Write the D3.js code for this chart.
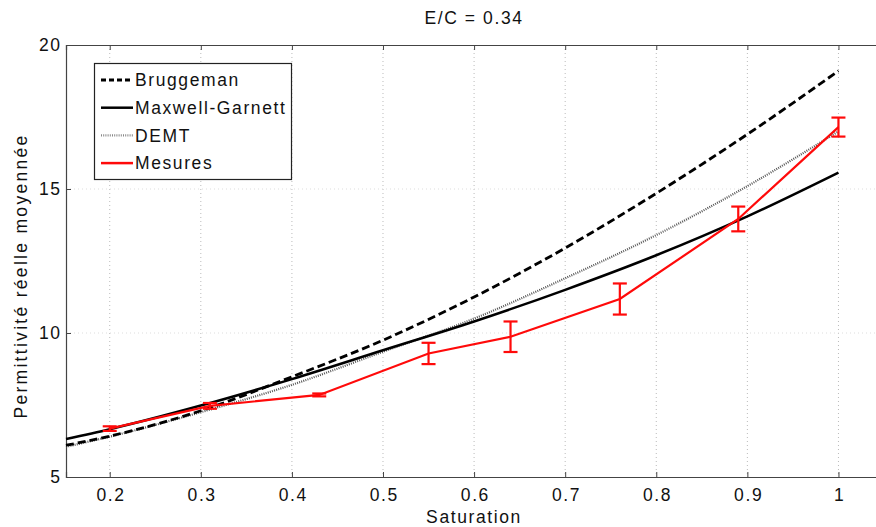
<!DOCTYPE html>
<html><head><meta charset="utf-8">
<script src="https://cdn.jsdelivr.net/npm/d3@7"></script>
<style>body{margin:0;background:#fff}svg{display:block;font-family:"Liberation Sans",Arial,sans-serif}</style>
</head><body><svg id="c" width="876" height="527"></svg>
<script>
const xs = [0.152, 0.2, 0.3, 0.4, 0.5, 0.6, 0.7, 0.8, 0.9, 1.0];
const bruggeman = [6.1, 6.42, 7.3, 8.48, 9.75, 11.25, 12.95, 14.85, 16.9, 19.1];
const maxwellGarnett = [6.32, 6.66, 7.48, 8.4, 9.4, 10.4, 11.5, 12.7, 14.05, 15.57];
const demt = [6.05, 6.4, 7.25, 8.2, 9.35, 10.5, 11.9, 13.4, 15.1, 17.0];
const mesX = [0.2, 0.31, 0.43, 0.55, 0.64, 0.76, 0.89, 1.0];
const mesY = [6.68, 7.47, 7.85, 9.29, 9.87, 11.18, 13.96, 17.15];
const mesErr = [0.08, 0.1, 0.05, 0.37, 0.53, 0.54, 0.43, 0.33];
const xTicks = [0.2, 0.3, 0.4, 0.5, 0.6, 0.7, 0.8, 0.9, 1];
const yTicks = [5, 10, 15, 20];
const legendLabels = ["Bruggeman", "Maxwell-Garnett", "DEMT", "Mesures"];

const FS = 17.5, LS = 1.6;
const svg = d3.select("#c");
const L = 66, R = 884, T = 45, B = 477;
const x = d3.scaleLinear().domain([0.152, 1.05]).range([L, R]);
const y = d3.scaleLinear().domain([5, 20]).range([B, T]);

// grid
const g = svg.append("g");
g.selectAll(".gx").data(xTicks).join("line")
  .attr("x1", d => x(d)).attr("x2", d => x(d)).attr("y1", T).attr("y2", B)
  .attr("stroke", "#bbb").attr("stroke-width", 1).attr("stroke-dasharray", "1,3");
g.selectAll(".gy").data(yTicks.slice(1, 3)).join("line")
  .attr("x1", L).attr("x2", R).attr("y1", d => y(d)).attr("y2", d => y(d))
  .attr("stroke", "#ddd").attr("stroke-width", 1).attr("stroke-dasharray", "1,3");

// axes
const axCol = "#444";
const xb = svg.append("g").attr("transform", `translate(0,${B})`)
  .call(d3.axisBottom(x).tickValues(xTicks).tickSize(-5).tickPadding(12).tickFormat(d => d === 1 ? "1" : d3.format(".1f")(d)));
const xt = svg.append("g").attr("transform", `translate(0,${T})`)
  .call(d3.axisTop(x).tickValues(xTicks).tickSize(-5).tickFormat(""));
const yl = svg.append("g").attr("transform", `translate(${L},0)`)
  .call(d3.axisLeft(y).tickValues(yTicks).tickSize(-5).tickPadding(6));
[xb, xt, yl].forEach(a => {
  a.select(".domain").attr("stroke", axCol).attr("stroke-width", 1.2);
  a.selectAll(".tick line").attr("stroke", axCol);
  a.selectAll("text").attr("font-size", FS).attr("fill", "#111")
    .attr("font-family", "Liberation Sans, Arial, sans-serif").attr("letter-spacing", LS);
});
xb.selectAll(".tick text").attr("dx", LS / 2);
yl.selectAll(".tick text").attr("dx", LS);

// lines
const line = (ys) => d3.line().x((d, i) => x(xs[i])).y(d => y(d)).curve(d3.curveMonotoneX)(ys);
svg.append("path").attr("d", line(demt)).attr("fill", "none").attr("stroke", "#555").attr("stroke-width", 2.2).attr("stroke-dasharray", "1,1.2");
svg.append("path").attr("d", line(maxwellGarnett)).attr("fill", "none").attr("stroke", "#000").attr("stroke-width", 2.5);
svg.append("path").attr("d", line(bruggeman)).attr("fill", "none").attr("stroke", "#000").attr("stroke-width", 2.8).attr("stroke-dasharray", "8,4");

// measures
const red = "#ff0a0a";
svg.append("path").attr("d", d3.line().x((d, i) => x(mesX[i])).y(d => y(d))(mesY))
  .attr("fill", "none").attr("stroke", red).attr("stroke-width", 2.2);
const eb = svg.append("g").attr("stroke", red).attr("stroke-width", 2.2);
mesY.forEach((v, i) => {
  const cx = x(mesX[i]), y1 = y(v + mesErr[i]), y2 = y(v - mesErr[i]);
  eb.append("line").attr("x1", cx).attr("x2", cx).attr("y1", y1).attr("y2", y2);
  eb.append("line").attr("x1", cx - 7).attr("x2", cx + 7).attr("y1", y1).attr("y2", y1);
  eb.append("line").attr("x1", cx - 7).attr("x2", cx + 7).attr("y1", y2).attr("y2", y2);
});

// legend
const lg = svg.append("g");
lg.append("rect").attr("x", 94.5).attr("y", 63.5).attr("width", 197).attr("height", 116)
  .attr("fill", "#fff").attr("stroke", "#222").attr("stroke-width", 1.2);
const styles = [
  {stroke: "#000", w: 2.8, dash: "5,3"},
  {stroke: "#000", w: 2.5, dash: null},
  {stroke: "#888", w: 2.2, dash: "1,1.2"},
  {stroke: red, w: 2.5, dash: null}
];
legendLabels.forEach((t, i) => {
  const yy = 80 + i * 27.7;
  lg.append("line").attr("x1", 101).attr("x2", 133).attr("y1", yy).attr("y2", yy)
    .attr("stroke", styles[i].stroke).attr("stroke-width", styles[i].w).attr("stroke-dasharray", styles[i].dash);
  lg.append("text").attr("x", 135).attr("y", yy).attr("dy", "0.36em").attr("font-size", FS)
    .attr("letter-spacing", LS).attr("fill", "#111").text(t);
});

// titles
svg.append("text").attr("x", 474).attr("y", 24).attr("text-anchor", "middle").attr("font-size", FS)
  .attr("letter-spacing", LS).attr("fill", "#111").text("E/C = 0.34");
svg.append("text").attr("x", 474).attr("y", 523).attr("text-anchor", "middle").attr("font-size", FS)
  .attr("letter-spacing", LS).attr("fill", "#111").text("Saturation");
svg.append("text").attr("transform", "translate(27,276) rotate(-90)").attr("text-anchor", "middle").attr("font-size", FS)
  .attr("letter-spacing", 2.3).attr("fill", "#111").text("Permittivité réelle moyennée");
</script></body></html>
